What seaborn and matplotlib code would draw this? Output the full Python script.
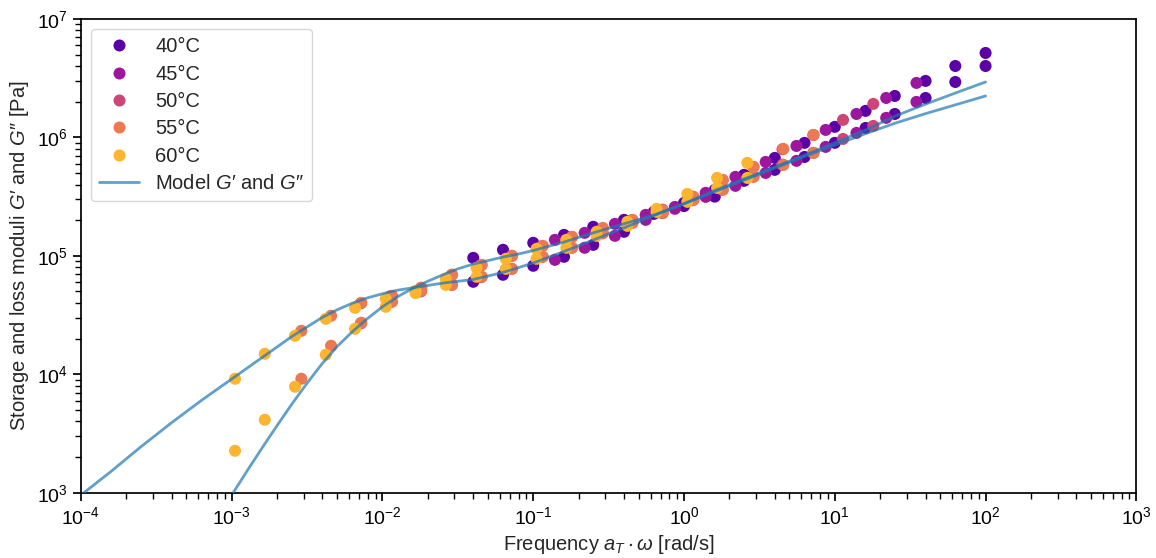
import numpy as np
import pandas as pd
import matplotlib
matplotlib.use("Agg")
import matplotlib.pyplot as plt
import seaborn as sns

sns.set_theme(style="ticks")
plt.rcParams["font.family"] = ["Liberation Sans", "DejaVu Sans"]
plt.rcParams["mathtext.fontset"] = "custom"
plt.rcParams["mathtext.rm"] = "Liberation Sans"
plt.rcParams["mathtext.it"] = "Liberation Sans:italic"
plt.rcParams["mathtext.fallback"] = "stixsans"
plt.rcParams["axes.edgecolor"] = "black"
plt.rcParams["xtick.color"] = "black"
plt.rcParams["ytick.color"] = "black"

# measured angular frequencies [rad/s] and shift factors a_T
omega = [0.04, 0.063, 0.1, 0.16, 0.25, 0.4, 0.63, 1.0, 1.6, 2.5,
         4.0, 6.3, 10.0, 16.0, 25.0, 40.0, 63.0, 100.0]
temps = ["40°C", "45°C", "50°C", "55°C", "60°C"]
shift = [1.0, 0.348, 0.18, 0.0724, 0.0263]

# log10 of moduli [Pa] (series end at omega = 100)
log_gp = {
    "40°C": [4.983, 5.051, 5.11, 5.177, 5.245, 5.304, 5.371, 5.447, 5.557,
             5.684, 5.827, 5.954, 6.089, 6.224, 6.35, 6.477, 6.603, 6.713],
    "45°C": [5.135, 5.194, 5.27, 5.346,
             5.413, 5.532, 5.667, 5.793, 5.928, 6.063, 6.198, 6.333, 6.46],
    "50°C": [4.43, 4.61, 4.73, 4.84, 4.92, 5.0, 5.08, 5.16, 5.23,
             5.30, 5.39, 5.50, 5.64, 5.75, 5.90, 6.02, 6.148, 6.283],
    "55°C": [3.962, 4.241, 4.435, 4.612, 4.73, 4.84, 4.924, 5.0, 5.084,
             5.16, 5.236, 5.304, 5.388, 5.498, 5.641, 5.751, 5.903, 6.021],
    "60°C": [3.354, 3.616, 3.895, 4.165, 4.384, 4.570, 4.685, 4.806, 4.899,
             4.975, 5.059, 5.135, 5.203, 5.287, 5.397, 5.523, 5.658, 5.785],
}
log_gpp = {
    "40°C": [4.781, 4.84, 4.916, 4.992, 5.093, 5.203, 5.354, 5.42, 5.50,
             5.633, 5.726, 5.835, 5.954, 6.08, 6.198, 6.333, 6.468, 6.603],
    "45°C": [4.966, 5.068, 5.169, 5.304,
             5.397, 5.498, 5.591, 5.70, 5.802, 5.92, 6.038, 6.165, 6.30],
    "50°C": [4.60, 4.66, 4.70, 4.755, 4.82, 4.89, 4.99, 5.07, 5.19,
             5.28, 5.36, 5.47, 5.56, 5.67, 5.77, 5.87, 5.987, 6.097],
    "55°C": [4.367, 4.494, 4.603, 4.662, 4.705, 4.755, 4.823, 4.89, 4.992,
             5.068, 5.194, 5.278, 5.363, 5.473, 5.557, 5.667, 5.768, 5.869],
    "60°C": [3.962, 4.173, 4.325, 4.468, 4.561, 4.637, 4.705, 4.755, 4.823,
             4.89, 4.975, 5.068, 5.169, 5.253, 5.371, 5.456, 5.574, 5.658],
}

# model curves (log10 frequency, log10 modulus)
model_w_gp = [-3.2, -3.1, -3.0, -2.9, -2.8, -2.7, -2.6, -2.5, -2.4, -2.3,
              -2.2, -2.1, -2.0, -1.9, -1.8, -1.7, -1.6, -1.5, -1.4, -1.3,
              -1.2, -1.1, -1.0, -0.8, -0.6, -0.4, -0.2, 0.0, 0.2, 0.4,
              0.6, 0.8, 1.0, 1.2, 1.4, 1.6, 1.8, 2.0]
model_gp = [2.58, 2.78, 2.98, 3.18, 3.375, 3.565, 3.75, 3.925, 4.09, 4.235,
            4.36, 4.47, 4.57, 4.655, 4.725, 4.785, 4.84, 4.89, 4.93, 4.96,
            4.99, 5.015, 5.045, 5.115, 5.195, 5.27, 5.345, 5.44, 5.55, 5.65,
            5.75, 5.85, 5.955, 6.06, 6.18, 6.28, 6.375, 6.468]
model_w_gpp = [-4.0, -3.8, -3.6, -3.4, -3.2, -3.0, -2.8, -2.6, -2.4, -2.3,
               -2.2, -2.1, -2.0, -1.9, -1.8, -1.7, -1.6, -1.5, -1.4, -1.2,
               -1.0, -0.8, -0.6, -0.4, -0.2, 0.0, 0.2, 0.4, 0.6, 0.8,
               1.0, 1.2, 1.4, 1.6, 1.8, 2.0]
model_gpp = [2.98, 3.18, 3.39, 3.59, 3.78, 3.96, 4.14, 4.32, 4.48, 4.545,
             4.60, 4.645, 4.68, 4.71, 4.73, 4.75, 4.77, 4.785, 4.80, 4.86,
             4.94, 5.035, 5.135, 5.235, 5.34, 5.44, 5.54, 5.64, 5.74, 5.84,
             5.935, 6.03, 6.12, 6.20, 6.275, 6.35]


def build_frame() -> pd.DataFrame:
    rows = []
    for t, a in zip(temps, shift):
        n = len(log_gp[t])
        for w, gp, gpp in zip(omega[-n:], log_gp[t], log_gpp[t]):
            rows.append((t, a * w, 10 ** gp))
            rows.append((t, a * w, 10 ** gpp))
    return pd.DataFrame(rows, columns=["temp", "freq", "modulus"])


def main() -> None:
    df = build_frame()
    fig, ax = plt.subplots(figsize=(11.56, 5.58), dpi=100)
    fig.subplots_adjust(left=0.070, right=0.983, bottom=0.117, top=0.966)

    palette = sns.color_palette("plasma", len(temps))
    sns.scatterplot(data=df, x="freq", y="modulus", hue="temp",
                    hue_order=temps, palette=palette, s=75, linewidth=0,
                    alpha=1.0, ax=ax, zorder=2)

    line_kw = dict(color="#1f77b4", alpha=0.7, lw=2, zorder=3)
    ax.plot(10 ** np.array(model_w_gp), 10 ** np.array(model_gp),
            label="Model $G′$ and $G″$", **line_kw)
    ax.plot(10 ** np.array(model_w_gpp), 10 ** np.array(model_gpp), **line_kw)

    ax.set_xscale("log")
    ax.set_yscale("log")
    ax.set_xlim(1e-4, 1e3)
    ax.set_ylim(1e3, 1e7)
    ax.set_xlabel(r"Frequency $a_T \cdot \omega$ [rad/s]", fontsize=14.5)
    ax.set_ylabel("Storage and loss moduli $G′$ and $G″$ [Pa]", fontsize=14.5,
                  labelpad=4)
    ax.tick_params(labelsize=14)

    handles, labels = ax.get_legend_handles_labels()
    ax.legend(handles, labels, loc="upper left", fontsize=14.5,
              labelspacing=0.42)

    fig.savefig("out.png", dpi=100)


if __name__ == "__main__":
    main()
